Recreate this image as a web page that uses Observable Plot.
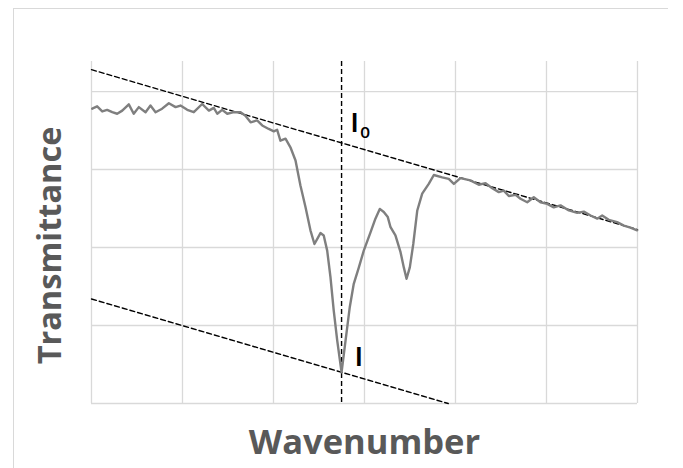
<!DOCTYPE html>
<html>
<head>
<meta charset="utf-8">
<script src="https://cdn.jsdelivr.net/npm/d3@7"></script>
<script src="https://cdn.jsdelivr.net/npm/@observablehq/plot@0.6"></script>
<style>
  html, body { margin: 0; padding: 0; background: #fff; }
  #wrap { position: relative; width: 683px; height: 468px; overflow: hidden; }
  #frame { position: absolute; left: 13px; top: 8px; width: 655px; height: 500px;
           border-top: 1.5px solid #d9d9d9; border-left: 1.5px solid #d9d9d9; box-sizing: border-box; }
  #chart { position: absolute; left: 0; top: 0; }
</style>
</head>
<body>
<div id="wrap"><div id="frame"></div><div id="chart"></div></div>
<script>
// Spectrum (arbitrary wavenumber units, transmittance units)
const wavenumber = [4,31,59,86,114,141,169,205,232,260,297,324,352,388,425,462,489,526,562,608,645,672,691,718,746,782,819,846,874,910,938,974,1002,1020,1038,1066,1093,1121,1148,1176,1203,1225,1258,1276,1295,1313,1331,1350,1374,1396,1419,1441,1469,1496,1533,1560,1584,1606,1628,1643,1670,1698,1716,1731,1749,1768,1790,1817,1853,1881,1927,1963,1991,2027,2082,2128,2165,2202,2238,2265,2293,2330,2357,2394,2430,2467,2504,2540,2577,2623,2669,2705,2742,2779,2806,2842,2888,2925,2961,2998];
const transmittance = [75.6,76.2,74.9,75.3,74.7,74.3,75.1,76.7,74.3,76.0,74.7,76.4,74.7,75.6,77.0,76.0,76.4,75.3,74.7,76.8,75.1,75.8,74.3,75.3,74.3,74.7,74.7,73.8,72.1,72.6,71.3,70.4,69.8,70.2,67.4,67.9,65.7,62.3,55.9,50.3,44.4,40.9,43.7,43.1,39.2,32.4,23.8,16.2,8.0,16.2,24.7,30.7,34.9,39.2,43.9,47.4,49.9,49.1,47.8,45.2,43.1,38.8,34.9,32.0,34.9,40.9,49.5,53.8,56.3,58.6,58.0,57.6,56.3,57.8,57.2,56.1,56.5,55.2,54.2,54.6,53.2,53.5,52.5,51.6,52.9,51.6,51.2,50.3,50.8,49.5,48.9,49.2,48.2,47.4,48.2,47.1,46.5,45.6,45.1,44.4];

// Baselines (tangent lines) and peak position
const baselineI0X = [0, 3000];
const baselineI0Y = [85.6, 44.6];
const baselineIX = [0, 1960];
const baselineIY = [26.8, 0];
const peakX = [1374];

// Grid ticks
const xTicks = [0, 500, 1000, 1500, 2000, 2500, 3000];
const yTicks = [0, 20, 40, 60, 80];
const xDomain = [0, 3000];
const yDomain = [0, 87.7];

const spectrum = wavenumber.map((w, i) => ({w, t: transmittance[i]}));
const upper = baselineI0X.map((x, i) => ({x, y: baselineI0Y[i]}));
const lower = baselineIX.map((x, i) => ({x, y: baselineIY[i]}));

const titleFont = "'Open Sans', sans-serif";
const labelFont = "Lato, 'Open Sans', sans-serif";
const dash = "5,3";

const chart = Plot.plot({
  width: 683,
  height: 468,
  marginLeft: 91,
  marginRight: 46,
  marginTop: 61,
  marginBottom: 65,
  x: {domain: xDomain, axis: null},
  y: {domain: yDomain, axis: null},
  style: {background: "transparent"},
  marks: [
    Plot.gridX(xTicks, {stroke: "#d9d9d9", strokeOpacity: 1, strokeWidth: 1.3}),
    Plot.gridY(yTicks, {stroke: "#d9d9d9", strokeOpacity: 1, strokeWidth: 1.3}),
    Plot.ruleX(peakX, {stroke: "#000", strokeWidth: 1.4, strokeDasharray: dash}),
    Plot.line(upper, {x: "x", y: "y", stroke: "#000", strokeWidth: 1.4, strokeDasharray: dash}),
    Plot.line(lower, {x: "x", y: "y", stroke: "#000", strokeWidth: 1.4, strokeDasharray: dash}),
    Plot.line(spectrum, {x: "w", y: "t", stroke: "#7f7f7f", strokeWidth: 2.4, strokeLinejoin: "round"}),
    Plot.text(["I"], {x: 1425, y: 69.5, textAnchor: "start", lineAnchor: "bottom", fontSize: 26, fontWeight: "bold", fontFamily: labelFont, fill: "#000"}),
    Plot.text(["0"], {x: 1478, y: 68.0, textAnchor: "start", lineAnchor: "bottom", fontSize: 16, fontWeight: "bold", fontFamily: labelFont, fill: "#000"}),
    Plot.text(["I"], {x: 1448, y: 9.5, textAnchor: "start", lineAnchor: "bottom", fontSize: 26, fontWeight: "bold", fontFamily: labelFont, fill: "#000"}),
    Plot.text(["Wavenumber"], {frameAnchor: "bottom", dy: 50, textAnchor: "middle", lineAnchor: "bottom", fontSize: 34.5, fontWeight: "bold", fontFamily: titleFont, fill: "#595959"}),
    Plot.text(["Transmittance"], {frameAnchor: "left", dx: -31, dy: 13, rotate: -90, textAnchor: "middle", lineAnchor: "bottom", fontSize: 32.5, fontWeight: "bold", fontFamily: titleFont, fill: "#595959"})
  ]
});
document.getElementById("chart").appendChild(chart);
</script>
</body>
</html>
